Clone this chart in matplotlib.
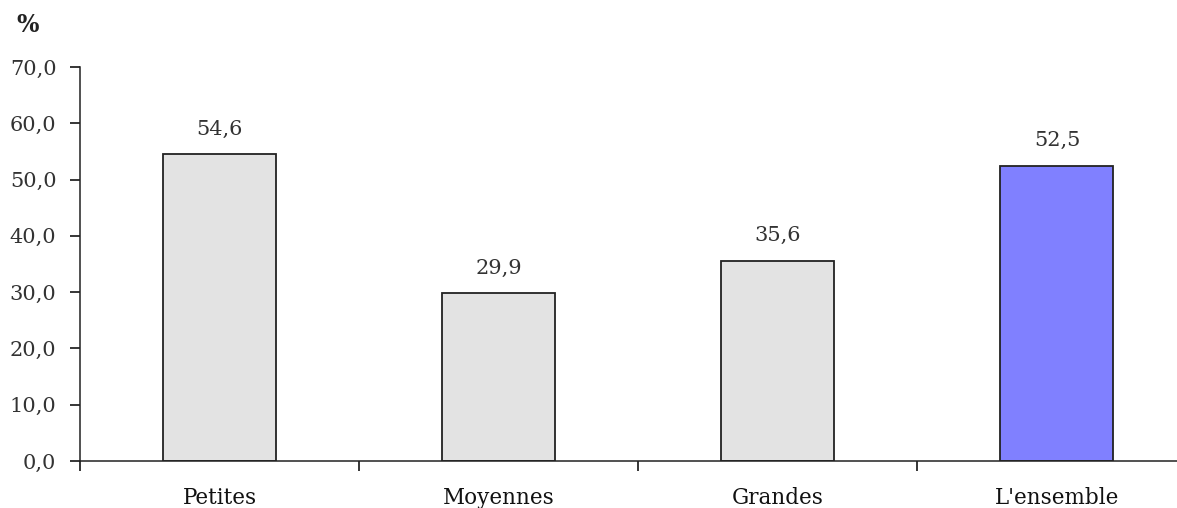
import numpy as np
import matplotlib.pyplot as plt

categories = ['Petites', 'Moyennes', 'Grandes', "L'ensemble"]
values = [54.6, 29.9, 35.6, 52.5]
colors = ['#e3e3e3', '#e3e3e3', '#e3e3e3', '#8080ff']
yticks = [0, 10, 20, 30, 40, 50, 60, 70]


def fmt(v):
    return ('%.1f' % v).replace('.', ',')


def main():
    plt.rcParams['font.family'] = ['DejaVu Serif']
    fig = plt.figure(figsize=(11.77, 5.08), dpi=100)
    ax = fig.add_axes([0.068, 0.0925, 0.932, 0.7755])

    index = np.arange(len(categories))
    ax.bar(index, values, 0.405, color=colors, edgecolor='#222222', linewidth=1.3)

    for i, v in zip(index, values):
        ax.annotate(fmt(v), (i, v), xytext=(0, 11), textcoords='offset points',
                    ha='center', va='bottom', fontsize=15, color='#333333')

    ax.set_xlim(-0.5, 3.43)
    ax.set_ylim(0, 70)
    ax.set_yticks(yticks)
    ax.set_yticklabels([fmt(t) for t in yticks], fontsize=15, color='#333333')
    ax.set_xticks(np.arange(len(categories)) - 0.5)
    ax.set_xticklabels([])
    ax.set_xticks(index, minor=True)
    ax.set_xticklabels(categories, minor=True, fontsize=15.5, color='#111111')
    ax.tick_params(axis='x', which='minor', length=0, pad=19)
    ax.tick_params(axis='x', which='major', length=7, width=1.1, direction='out')
    ax.tick_params(axis='y', length=7, width=1.1, direction='out', pad=10)

    for s in ['top', 'right']:
        ax.spines[s].set_visible(False)
    for s in ['left', 'bottom']:
        ax.spines[s].set_linewidth(1.1)
        ax.spines[s].set_color('#222222')

    fig.text(0.014, 0.951, '%', fontsize=17, fontweight='bold', ha='left', va='center',
             color='#222222')

    fig.savefig('out.png', dpi=100)


if __name__ == "__main__":
    main()
